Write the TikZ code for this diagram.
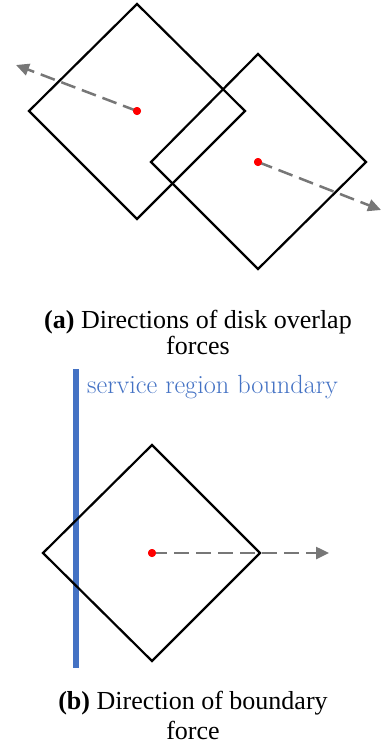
\documentclass[tikz,border=0pt]{standalone}
\usepackage{fontspec}
\newfontfamily\tnr{Liberation Serif}
\usetikzlibrary{arrows.meta}
\definecolor{forcegray}{HTML}{777777}
\definecolor{bndblue}{HTML}{4472C4}
\tikzset{
  disk/.style={draw=black, line width=2.2pt, line join=miter},
  force/.style={draw=forcegray, line width=2.5pt, dash pattern=on 15pt off 7pt, -{Triangle[length=13pt,width=12pt]}},
  ctr/.style={circle, fill=red, inner sep=0pt, minimum size=8pt},
  captext/.style={font=\tnr\fontsize{26}{31}\selectfont, inner sep=0pt, anchor=base},
}
\begin{document}
\begin{tikzpicture}[x=1pt,y=-1pt]
\useasboundingbox (0,0) rectangle (387,750);
% (a)
\draw[disk] (137,4) -- (245,111) -- (137,219) -- (29,111) -- cycle;
\draw[disk] (258,54) -- (366,162) -- (258,269) -- (151,162) -- cycle;
\coordinate (e1) at (16,65);
\coordinate (e2) at (381,210);
\node[ctr] (c1) at (137,111) {};
\node[ctr] (c2) at (258,162) {};
\draw[force] (c1.center) -- (e1);
\draw[force] (c2.center) -- (e2);
\node[ctr] at (137,111) {};
\node[ctr] at (258,162) {};
\node[captext] (capa1) at (198,328) {\textbf{(a)} Directions of disk overlap};
\node[captext] (capa2) at (198,354) {forces};
% (b)
\draw[bndblue, line width=6pt] (76,369) -- (76,668);
\node[text=bndblue, font=\fontsize{26.3}{30}\selectfont, inner sep=0pt, anchor=base west] (bl) at (87,393) {service region boundary};
\draw[disk] (152,445) -- (260,553) -- (152,661) -- (43,553) -- cycle;
\coordinate (e3) at (329,553);
\node[ctr] (c3) at (152,553) {};
\draw[force] (c3.center) -- (e3);
\node[ctr] at (152,553) {};
\node[captext] (capb1) at (193,709) {\textbf{(b)} Direction of boundary};
\node[captext] (capb2) at (193,739) {force};
\end{tikzpicture}
\end{document}
